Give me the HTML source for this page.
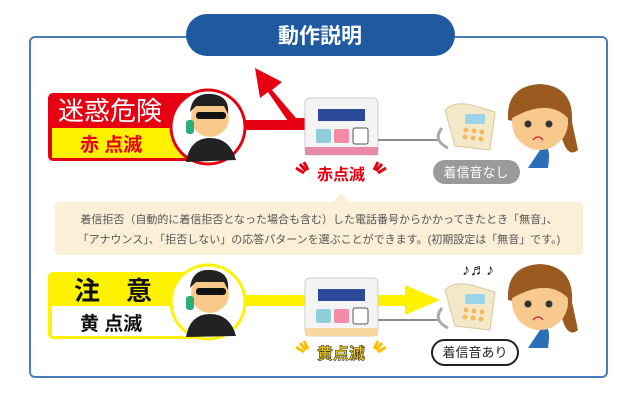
<!DOCTYPE html>
<html><head><meta charset="utf-8"><style>
body{margin:0;background:#fff;}
svg{display:block;font-family:"Liberation Sans","Noto Sans CJK JP",sans-serif;}
</style></head><body>
<svg width="640" height="405" viewBox="0 0 640 405" xmlns="http://www.w3.org/2000/svg">
<rect x="30" y="37" width="577" height="340" rx="5" fill="#fff" stroke="#4a7db5" stroke-width="2"/>
<rect x="186" y="14" width="269" height="42" rx="21" fill="#1f5aa0"/>
<text x="320" y="43" font-size="21" font-weight="bold" fill="#fff" text-anchor="middle">動作説明</text>

<!-- red row -->
<path d="M200 128 L318 128 L318 118 L296 118 L272 90 L282 82 L255 68 L260 98 L268 92 L290 124 Z" fill="#e60012"/>
<rect x="230" y="120" width="80" height="10" fill="#e60012"/>
<rect x="48" y="93" width="150" height="68" rx="5" fill="#e60012"/>
<rect x="52" y="128" width="140" height="30" fill="#fff200"/>
<text x="58" y="120" font-size="26" fill="#fff">迷惑危険</text>
<text x="80" y="151" font-size="19" font-weight="bold" fill="#e60012">赤 点滅</text>
<circle cx="208" cy="127" r="37" fill="#fff" stroke="#e60012" stroke-width="3"/>
<circle cx="210" cy="118" r="19" fill="#f9c98a"/>
<path d="M190 112 Q192 92 212 94 Q230 96 228 114 L224 106 L196 106 Z" fill="#222"/>
<rect x="196" y="112" width="30" height="7" rx="3" fill="#111"/>
<path d="M186 162 Q190 138 210 138 Q230 138 236 160 Z" fill="#222"/>
<rect x="186" y="120" width="8" height="14" rx="3" fill="#2bb07a"/>

<!-- device 1 -->
<rect x="305" y="98" width="73" height="57" rx="5" fill="#f4f4f4" stroke="#ccc"/>
<rect x="305" y="147" width="73" height="8" fill="#e88aa6"/>
<rect x="318" y="109" width="47" height="12" fill="#2c4a9a"/>
<rect x="316" y="129" width="15" height="14" rx="2" fill="#8fd0d8"/>
<rect x="334" y="129" width="15" height="14" rx="2" fill="#f28aa8"/>
<rect x="353" y="128" width="15" height="16" rx="2" fill="#fff" stroke="#555"/>
<line x1="378" y1="140" x2="440" y2="140" stroke="#666" stroke-width="1.5"/>
<text x="341" y="180" font-size="16" font-weight="bold" fill="#e60012" text-anchor="middle">赤点滅</text>
<path d="M296 168 l8 5 M300 164 l6 7 M304 162 l4 8 M386 168 l-8 5 M382 164 l-6 7 M378 162 l-4 8" stroke="#e60012" stroke-width="3"/>

<!-- phone + woman 1 -->
<g id="pw">
<path d="M445 110 Q455 100 475 106 L495 112 L490 150 L455 146 Z" fill="#f3e9c8" stroke="#d8c9a0"/>
<rect x="465" y="114" width="20" height="10" rx="2" fill="#9bd4e8"/>
<g fill="#f4b860"><circle cx="466" cy="130" r="2.5"/><circle cx="474" cy="131" r="2.5"/><circle cx="482" cy="132" r="2.5"/><circle cx="465" cy="137" r="2.5"/><circle cx="473" cy="138" r="2.5"/><circle cx="481" cy="139" r="2.5"/></g>
<path d="M442 128 Q432 140 448 148" stroke="#aaa" stroke-width="3" fill="none"/>
<path d="M540 150 Q552 140 548 168 L528 168 Z" fill="#2a6fb8"/>
<path d="M508 120 Q506 86 540 84 Q574 86 572 122 L578 150 Q566 160 560 130 Z" fill="#9b5b20"/>
<circle cx="540" cy="122" r="28" fill="#f8c98e"/>
<path d="M512 118 Q514 92 540 92 Q566 92 568 118 Q550 100 520 114 Z" fill="#9b5b20"/>
<circle cx="528" cy="124" r="3.5" fill="#333"/><circle cx="549" cy="124" r="3.5" fill="#333"/>
<path d="M533 140 Q538 134 543 140" stroke="#c33" stroke-width="1.5" fill="none"/>
</g>
<rect x="433" y="160" width="87" height="24" rx="12" fill="#9a9a9a"/>
<text x="476" y="177" font-size="13" fill="#fff" text-anchor="middle">着信音なし</text>

<!-- text box -->
<rect x="55" y="202" width="528" height="53" rx="4" fill="#fbefd8"/>
<path d="M333 202 l8 -9 l8 9 Z" fill="#fbefd8"/>
<text x="319" y="223" font-size="11" fill="#555" text-anchor="middle">着信拒否（自動的に着信拒否となった場合も含む）した電話番号からかかってきたとき「無音」、</text>
<text x="319" y="243" font-size="11" fill="#555" text-anchor="middle">「アナウンス」、「拒否しない」の応答パターンを選ぶことができます。(初期設定は「無音」です。)</text>

<!-- yellow row -->
<rect x="200" y="295" width="210" height="11" fill="#fff200"/>
<path d="M405 285 L440 300 L405 315 Z" fill="#fff200"/>
<rect x="48" y="272" width="150" height="67" rx="5" fill="#fff200"/>
<rect x="52" y="306" width="140" height="30" fill="#fff"/>
<text x="74" y="300" font-size="26" font-weight="bold" fill="#111">注　意</text>
<text x="80" y="330" font-size="19" font-weight="bold" fill="#111">黄 点滅</text>
<circle cx="208" cy="302" r="37" fill="#fff" stroke="#fff200" stroke-width="3"/>
<circle cx="210" cy="294" r="19" fill="#f9c98a"/>
<path d="M190 288 Q192 268 212 270 Q230 272 228 290 L224 282 L196 282 Z" fill="#222"/>
<rect x="196" y="288" width="30" height="7" rx="3" fill="#111"/>
<path d="M186 337 Q190 314 210 314 Q230 314 236 336 Z" fill="#222"/>
<rect x="186" y="296" width="8" height="14" rx="3" fill="#2bb07a"/>

<rect x="305" y="278" width="73" height="58" rx="5" fill="#f4f4f4" stroke="#ccc"/>
<rect x="305" y="328" width="73" height="8" fill="#f8d7a0"/>
<rect x="318" y="289" width="47" height="12" fill="#2c4a9a"/>
<rect x="316" y="309" width="15" height="14" rx="2" fill="#8fd0d8"/>
<rect x="334" y="309" width="15" height="14" rx="2" fill="#f28aa8"/>
<rect x="353" y="308" width="15" height="16" rx="2" fill="#fff" stroke="#555"/>
<line x1="378" y1="320" x2="440" y2="320" stroke="#666" stroke-width="1.5"/>
<text x="341" y="359" font-size="16" font-weight="bold" fill="#f6d000" stroke="#333" stroke-width="0.6" text-anchor="middle">黄点滅</text>
<path d="M296 347 l8 5 M300 343 l6 7 M304 341 l4 8 M386 347 l-8 5 M382 343 l-6 7 M378 341 l-4 8" stroke="#f6c000" stroke-width="3"/>
<use href="#pw" transform="translate(0,180)"/>
<text x="462" y="275" font-size="16" fill="#222">♪♬♪</text>
<rect x="432" y="340" width="86" height="25" rx="12.5" fill="#fff" stroke="#222" stroke-width="2"/>
<text x="475" y="357" font-size="13" fill="#222" text-anchor="middle">着信音あり</text>
</svg>
</body></html>
